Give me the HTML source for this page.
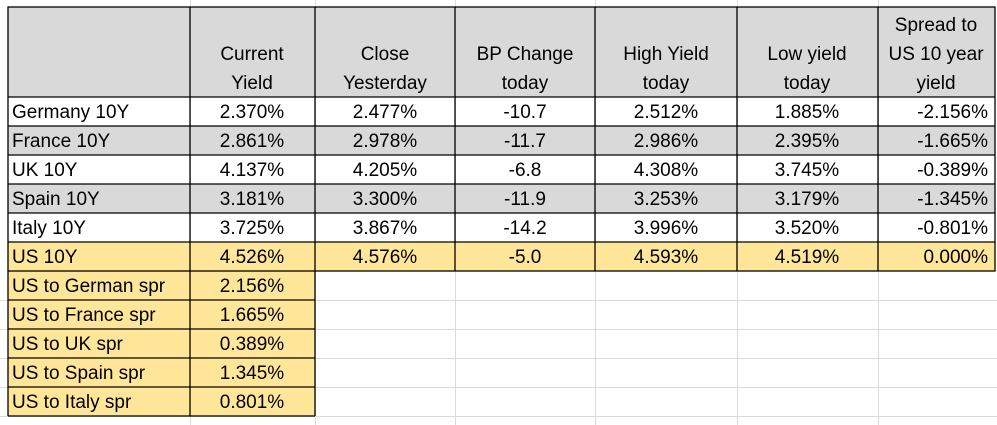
<!DOCTYPE html>
<html><head><style>body{margin:0;background:#fff}svg{display:block}text{font-family:"Liberation Sans",Arial,sans-serif;font-size:19px;fill:#000}</style></head><body>
<svg width="997" height="425" xmlns="http://www.w3.org/2000/svg">
<rect x="0" y="0" width="997" height="425" fill="#fff"/>
<g stroke="#dadada" stroke-width="1">
<line x1="190.5" y1="0" x2="190.5" y2="425"/><line x1="315.5" y1="0" x2="315.5" y2="425"/><line x1="455.5" y1="0" x2="455.5" y2="425"/><line x1="595.5" y1="0" x2="595.5" y2="425"/><line x1="737.5" y1="0" x2="737.5" y2="425"/><line x1="878.5" y1="0" x2="878.5" y2="425"/>
<line x1="0" y1="300.5" x2="997" y2="300.5"/><line x1="0" y1="329.5" x2="997" y2="329.5"/><line x1="0" y1="358.5" x2="997" y2="358.5"/><line x1="0" y1="387.5" x2="997" y2="387.5"/><line x1="0" y1="416.5" x2="997" y2="416.5"/>
</g>
<rect x="8" y="7" width="987" height="90" fill="#d9d9d9"/>
<rect x="8" y="126" width="987" height="29" fill="#d9d9d9"/>
<rect x="8" y="184" width="987" height="29" fill="#d9d9d9"/>
<rect x="8" y="242" width="987" height="29" fill="#ffe699"/>
<rect x="8" y="271" width="307" height="145" fill="#ffe699"/>
<g stroke="#000" stroke-width="1.3" fill="none">
<rect x="8" y="7" width="987" height="264"/>
<line x1="8" y1="97" x2="995" y2="97"/><line x1="8" y1="126" x2="995" y2="126"/><line x1="8" y1="155" x2="995" y2="155"/><line x1="8" y1="184" x2="995" y2="184"/><line x1="8" y1="213" x2="995" y2="213"/><line x1="8" y1="242" x2="995" y2="242"/>
<line x1="190" y1="7" x2="190" y2="416"/><line x1="315" y1="7" x2="315" y2="416"/><line x1="455" y1="7" x2="455" y2="271"/><line x1="595" y1="7" x2="595" y2="271"/><line x1="737" y1="7" x2="737" y2="271"/><line x1="878" y1="7" x2="878" y2="271"/>
<line x1="8" y1="271" x2="8" y2="416"/>
<line x1="8" y1="300" x2="315" y2="300"/><line x1="8" y1="329" x2="315" y2="329"/><line x1="8" y1="358" x2="315" y2="358"/><line x1="8" y1="387" x2="315" y2="387"/><line x1="8" y1="416" x2="315" y2="416"/>
</g>
<g text-anchor="middle">
<text x="252" y="60">Current</text><text x="252" y="89">Yield</text>
<text x="385" y="60">Close</text><text x="385" y="89">Yesterday</text>
<text x="525" y="60">BP Change</text><text x="525" y="89">today</text>
<text x="666" y="60">High Yield</text><text x="666" y="89">today</text>
<text x="807" y="60">Low yield</text><text x="807" y="89">today</text>
<text x="936" y="31">Spread to</text><text x="936" y="60">US 10 year</text><text x="936" y="89">yield</text>
</g>
<g>
<text x="12" y="118">Germany 10Y</text><text x="12" y="147">France 10Y</text><text x="12" y="176">UK 10Y</text><text x="12" y="205">Spain 10Y</text><text x="12" y="234">Italy 10Y</text><text x="12" y="263">US 10Y</text>
<text x="12" y="292">US to German spr</text><text x="12" y="321">US to France spr</text><text x="12" y="350">US to UK spr</text><text x="12" y="379">US to Spain spr</text><text x="12" y="408">US to Italy spr</text>
</g>
<g text-anchor="middle">
<text x="252" y="118">2.370%</text><text x="385" y="118">2.477%</text><text x="525" y="118">-10.7</text><text x="666" y="118">2.512%</text><text x="807" y="118">1.885%</text>
<text x="252" y="147">2.861%</text><text x="385" y="147">2.978%</text><text x="525" y="147">-11.7</text><text x="666" y="147">2.986%</text><text x="807" y="147">2.395%</text>
<text x="252" y="176">4.137%</text><text x="385" y="176">4.205%</text><text x="525" y="176">-6.8</text><text x="666" y="176">4.308%</text><text x="807" y="176">3.745%</text>
<text x="252" y="205">3.181%</text><text x="385" y="205">3.300%</text><text x="525" y="205">-11.9</text><text x="666" y="205">3.253%</text><text x="807" y="205">3.179%</text>
<text x="252" y="234">3.725%</text><text x="385" y="234">3.867%</text><text x="525" y="234">-14.2</text><text x="666" y="234">3.996%</text><text x="807" y="234">3.520%</text>
<text x="252" y="263">4.526%</text><text x="385" y="263">4.576%</text><text x="525" y="263">-5.0</text><text x="666" y="263">4.593%</text><text x="807" y="263">4.519%</text>
<text x="252" y="292">2.156%</text><text x="252" y="321">1.665%</text><text x="252" y="350">0.389%</text><text x="252" y="379">1.345%</text><text x="252" y="408">0.801%</text>
</g>
<g text-anchor="end">
<text x="988" y="118">-2.156%</text><text x="988" y="147">-1.665%</text><text x="988" y="176">-0.389%</text><text x="988" y="205">-1.345%</text><text x="988" y="234">-0.801%</text><text x="988" y="263">0.000%</text>
</g>
</svg>
</body></html>
